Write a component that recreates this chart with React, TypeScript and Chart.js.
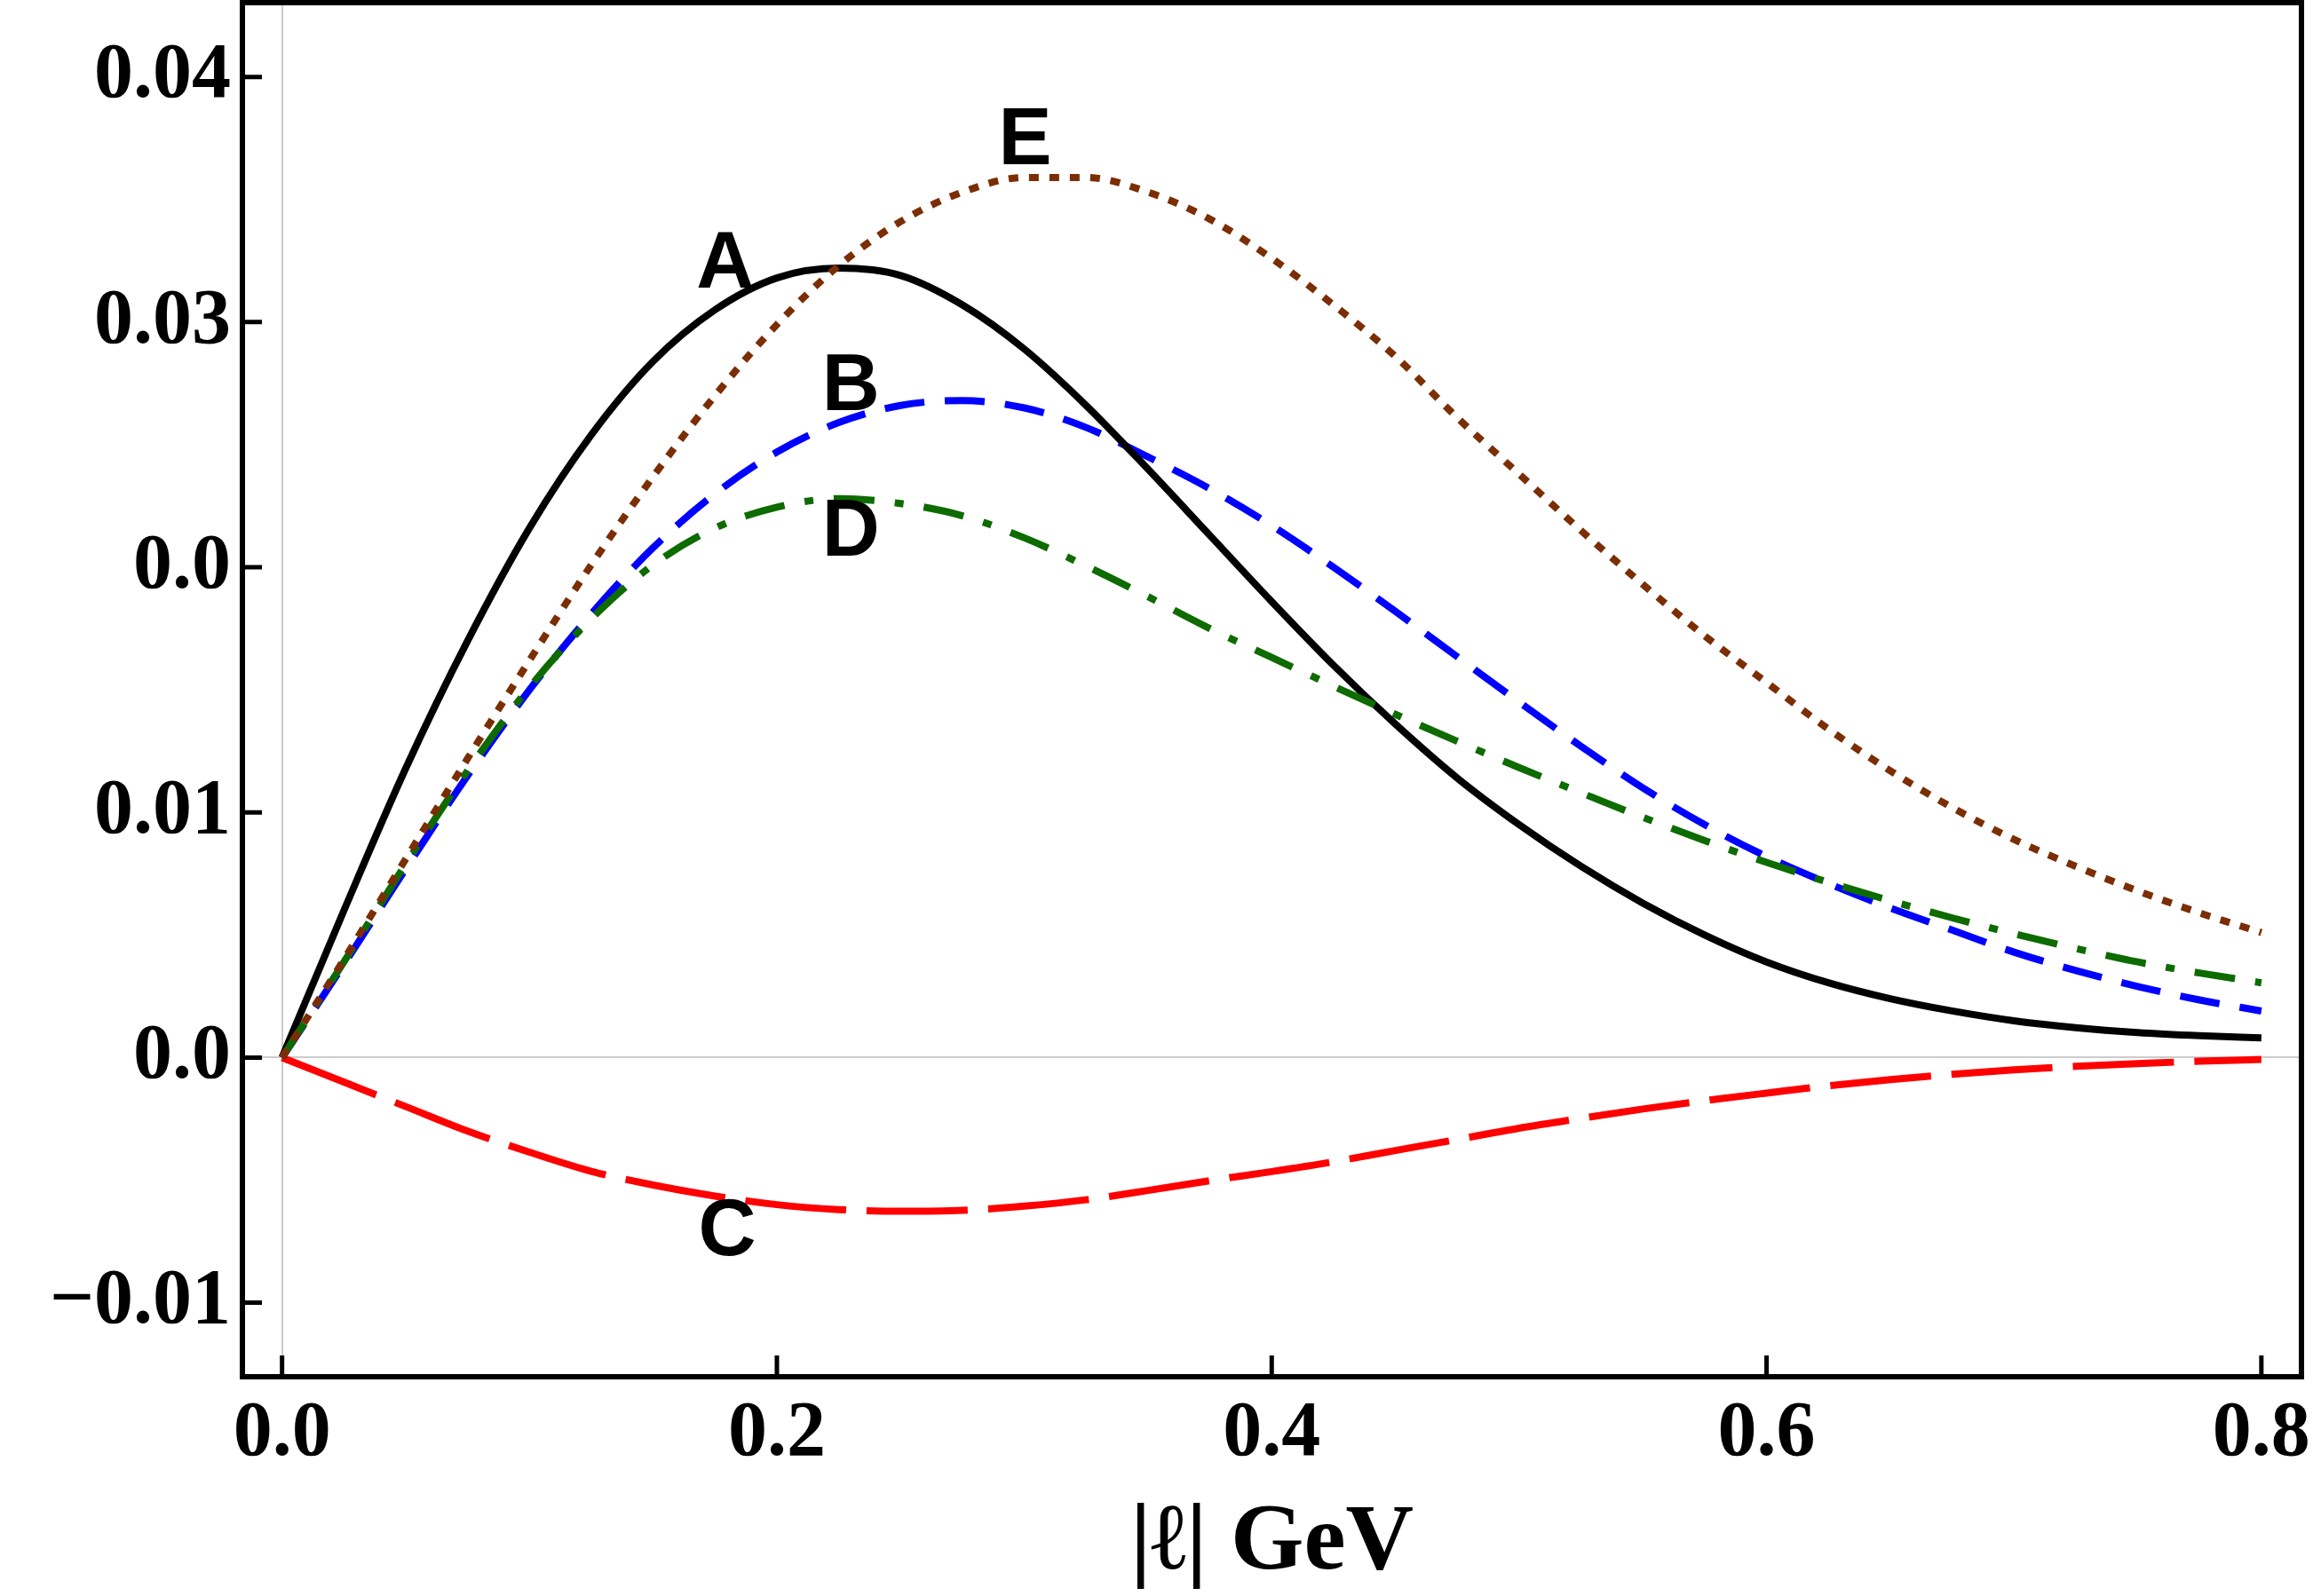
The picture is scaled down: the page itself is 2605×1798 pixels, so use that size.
import React, { useEffect, useRef } from 'react';
import { Chart, registerables } from 'chart.js';

Chart.register(...registerables);

// |l| in GeV
const xValues = [
  0, 0.025, 0.05, 0.075, 0.1, 0.125, 0.15, 0.175, 0.2, 0.225, 0.25, 0.275, 0.3, 0.325, 0.35, 0.375,
  0.4, 0.425, 0.45, 0.475, 0.5, 0.525, 0.55, 0.575, 0.6, 0.625, 0.65, 0.675, 0.7, 0.725, 0.75, 0.775, 0.8,
];

const seriesA = [
  0, 0.006, 0.0118, 0.017, 0.0216, 0.0254, 0.0284, 0.0305, 0.0318, 0.0322, 0.0319, 0.0307, 0.0289,
  0.0266, 0.024, 0.0213, 0.0186, 0.016, 0.0136, 0.0114, 0.0095, 0.0078, 0.0063, 0.005, 0.0039,
  0.00305, 0.0024, 0.0019, 0.0015, 0.00122, 0.00102, 0.00089, 0.0008,
];

const seriesB = [
  0, 0.0038, 0.0077, 0.0115, 0.015, 0.0181, 0.0208, 0.023, 0.0247, 0.0259, 0.0266, 0.0268, 0.0265,
  0.0257, 0.0245, 0.0232, 0.0217, 0.02, 0.0182, 0.01635, 0.0145, 0.0127, 0.011, 0.0095, 0.0082,
  0.0071, 0.0061, 0.0052, 0.0043, 0.00355, 0.0029, 0.00235, 0.0019,
];

const seriesC = [
  0, -0.001, -0.002, -0.003, -0.00386, -0.00464, -0.0052, -0.00565, -0.006, -0.0062, -0.00627, -0.00623,
  -0.00606, -0.0058, -0.00542, -0.00502, -0.00465, -0.00425, -0.00379, -0.00334, -0.00288, -0.00248,
  -0.0021, -0.00176, -0.00145, -0.00115, -0.0009, -0.00068, -0.0005, -0.00036, -0.00025, -0.00015, -0.00008,
];

const seriesD = [
  0, 0.0039, 0.0079, 0.0117, 0.0151, 0.0179, 0.0201, 0.0216, 0.02245, 0.0228, 0.0226, 0.0221, 0.0212,
  0.02005, 0.0188, 0.0175, 0.01632, 0.01515, 0.014, 0.0129, 0.01183, 0.0108, 0.0098, 0.00885, 0.00796,
  0.00715, 0.0064, 0.0057, 0.00505, 0.00445, 0.0039, 0.00345, 0.00305,
];

const seriesE = [
  0, 0.004, 0.0081, 0.0122, 0.0162, 0.0201, 0.0237, 0.027, 0.0299, 0.0323, 0.0341, 0.0353, 0.0359,
  0.0359, 0.0353, 0.0342, 0.0326, 0.0307, 0.0286, 0.0261, 0.0238, 0.0215, 0.0193, 0.0172, 0.0153,
  0.0134, 0.0117, 0.0102, 0.0089, 0.0078, 0.0068, 0.0059, 0.0051,
];

const xTickValues = [0, 0.2, 0.4, 0.6, 0.8];
const xTickLabels = ['0.0', '0.2', '0.4', '0.6', '0.8'];
const yTickValues = [-0.01, 0, 0.01, 0.02, 0.03, 0.04];
const yTickLabels = ['\u22120.01', '0.0', '0.01', '0.0', '0.03', '0.04'];

const curveLabels = ['A', 'B', 'C', 'D', 'E'];
const curveLabelX = [0.1791, 0.2299, 0.1799, 0.2299, 0.3003];
const curveLabelY = [0.03257, 0.02757, -0.00689, 0.02162, 0.0376];

const xTitle = '|\u2113| GeV';

const W = 2605;
const H = 1798;

const toPoints = (ys: number[]) => xValues.map((x, i) => ({ x, y: ys[i] }));

const framePlugin = {
  id: 'frameAndLabels',
  afterDatasetsDraw(chart: any) {
    const { ctx, chartArea, scales } = chart;
    const { left, right, top, bottom } = chartArea;
    const xs = scales.x;
    const ys = scales.y;
    ctx.save();
    // curve labels
    ctx.fillStyle = '#000';
    ctx.font = 'bold 90px "Liberation Sans", Arial, sans-serif';
    ctx.textAlign = 'center';
    ctx.textBaseline = 'alphabetic';
    curveLabels.forEach((t, i) => {
      ctx.fillText(t, xs.getPixelForValue(curveLabelX[i]), ys.getPixelForValue(curveLabelY[i]) + 32);
    });
    // frame
    ctx.strokeStyle = '#000';
    ctx.lineWidth = 6;
    ctx.strokeRect(left, top, right - left, bottom - top);
    // inward tick marks
    ctx.lineWidth = 5;
    ctx.beginPath();
    yTickValues.forEach((v) => {
      const py = ys.getPixelForValue(v);
      ctx.moveTo(left, py);
      ctx.lineTo(left + 22, py);
    });
    xTickValues.forEach((v) => {
      const px = xs.getPixelForValue(v);
      ctx.moveTo(px, bottom);
      ctx.lineTo(px, bottom - 24);
    });
    ctx.stroke();
    ctx.restore();
  },
};

export default function App() {
  const canvasRef = useRef<HTMLCanvasElement | null>(null);

  useEffect(() => {
    const canvas = canvasRef.current;
    if (!canvas) return;
    const common = {
      pointRadius: 0,
      pointHoverRadius: 0,
      fill: false,
      borderWidth: 8,
      borderCapStyle: 'butt' as const,
      cubicInterpolationMode: 'monotone' as const,
    };
    const chart = new Chart(canvas, {
      type: 'line',
      data: {
        datasets: [
          { ...common, label: 'A', data: toPoints(seriesA), borderColor: '#000000', order: 3 },
          { ...common, label: 'B', data: toPoints(seriesB), borderColor: '#0000ff', borderDash: [45, 23], order: 4 },
          { ...common, label: 'C', data: toPoints(seriesC), borderColor: '#ff0000', borderDash: [114, 23], order: 5 },
          { ...common, label: 'D', data: toPoints(seriesD), borderColor: '#0d6b00', borderDash: [46, 23, 10, 23], order: 2 },
          { ...common, label: 'E', data: toPoints(seriesE), borderColor: '#7b2e04', borderDash: [11, 12], order: 1 },
        ],
      },
      options: {
        responsive: false,
        animation: false,
        events: [],
        layout: { padding: { left: 0, top: 3, right: 13, bottom: 0 } },
        plugins: {
          legend: { display: false },
          tooltip: { enabled: false },
          title: { display: false },
        },
        scales: {
          x: {
            type: 'linear',
            min: -0.01603,
            max: 0.8162,
            afterBuildTicks: (axis: any) => {
              axis.ticks = xTickValues.map((v) => ({ value: v }));
            },
            afterFit: (axis: any) => {
              axis.height = 247;
              axis.paddingLeft = 0;
              axis.paddingRight = 0;
            },
            border: { display: false },
            grid: {
              drawTicks: false,
              lineWidth: 2,
              color: (c: any) => (c.tick && c.tick.value === 0 ? '#cccccc' : 'rgba(0,0,0,0)'),
            },
            ticks: {
              autoSkip: false,
              maxRotation: 0,
              padding: 12,
              color: '#000',
              font: { family: '"Liberation Serif", "Times New Roman", serif', size: 88, weight: 'bold' },
              callback: (_v: any, i: number) => xTickLabels[i],
            },
            title: {
              display: true,
              text: xTitle,
              color: '#000',
              padding: { top: 0, bottom: 0 },
              font: { family: '"Liberation Serif", "Times New Roman", serif', size: 106, weight: 'bold', lineHeight: 1.1 },
            },
          },
          y: {
            type: 'linear',
            min: -0.01302,
            max: 0.04303,
            afterBuildTicks: (axis: any) => {
              axis.ticks = yTickValues.map((v) => ({ value: v }));
            },
            afterFit: (axis: any) => {
              axis.width = 273;
              axis.paddingTop = 0;
              axis.paddingBottom = 0;
            },
            border: { display: false },
            grid: {
              drawTicks: false,
              lineWidth: 2,
              color: (c: any) => (c.tick && c.tick.value === 0 ? '#cccccc' : 'rgba(0,0,0,0)'),
            },
            ticks: {
              autoSkip: false,
              padding: 13,
              color: '#000',
              font: { family: '"Liberation Serif", "Times New Roman", serif', size: 88, weight: 'bold' },
              callback: (_v: any, i: number) => yTickLabels[i],
            },
          },
        },
      } as any,
      plugins: [framePlugin],
    });
    return () => chart.destroy();
  }, []);

  return (
    <div style={{ position: 'absolute', left: 0, top: 0, width: W, height: H, background: '#fff' }}>
      <canvas ref={canvasRef} width={W} height={H} style={{ display: 'block', width: W, height: H }} />
    </div>
  );
}
